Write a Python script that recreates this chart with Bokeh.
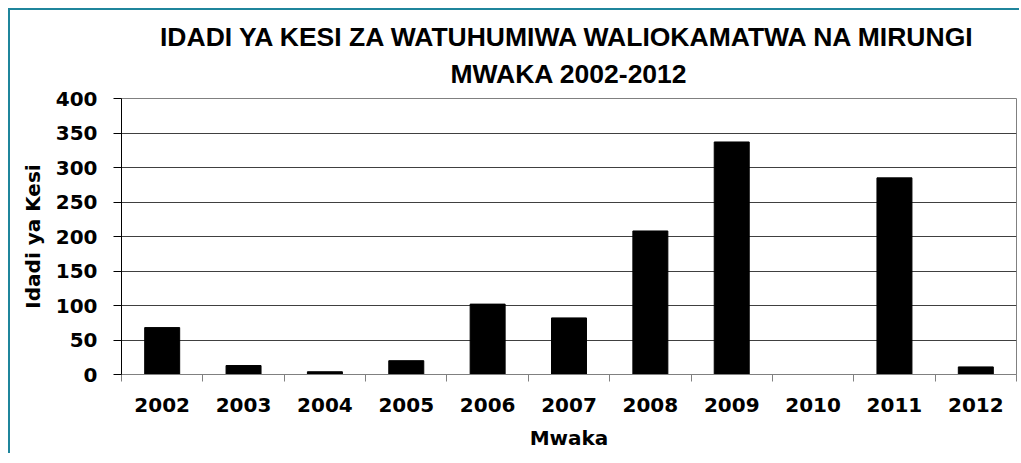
from bokeh.plotting import figure
from bokeh.models import Title, FixedTicker, Range1d
from bokeh.embed import file_html
from bokeh.resources import INLINE
import numpy as np

years = ["2002", "2003", "2004", "2005", "2006", "2007", "2008", "2009", "2010", "2011", "2012"]
cases = [68, 13, 4, 20, 102, 82, 208, 337, 0, 285, 11]
y_ticks = [0, 50, 100, 150, 200, 250, 300, 350, 400]

title_line1 = "IDADI YA KESI ZA WATUHUMIWA WALIOKAMATWA NA MIRUNGI"
title_line2 = "MWAKA 2002-2012"
x_label = "Mwaka"
y_label = "Idadi ya Kesi"

n = len(years)
centers = list(np.arange(n) + 0.5)
bounds = list(range(n + 1))

p = figure(width=1011, height=445, output_backend="svg", toolbar_location=None,
           title=None, x_range=Range1d(0, n), y_range=Range1d(0, 400),
           min_border_left=111, min_border_right=5, min_border_top=88, min_border_bottom=81)
p.styles = {"border-left": "2px solid #1f859c", "border-top": "2px solid #1f859c",
            "margin-left": "8px", "margin-top": "8px"}

t2 = Title(text=title_line2, align="center", text_font="Liberation Sans",
           text_font_size="26.5px", text_font_style="bold", text_color="#000000", standoff=19)
t1 = Title(text=title_line1, align="center", text_font="Liberation Sans",
           text_font_size="26.5px", text_font_style="bold", text_color="#000000", standoff=-8)
p.add_layout(t2, "above")
p.add_layout(t1, "above")

p.vbar(x=centers, top=cases, width=0.43, fill_color="#000000", line_color="#000000")

p.outline_line_color = "#808080"
p.xgrid.visible = False
p.ygrid.ticker = FixedTicker(ticks=y_ticks)
p.ygrid.grid_line_color = "#404040"
p.ygrid.grid_line_width = 1

xa = p.xaxis[0]
xa.ticker = FixedTicker(ticks=centers, minor_ticks=bounds)
xa.major_label_overrides = {c: y for c, y in zip(centers, years)}
xa.major_tick_out = 0
xa.major_tick_in = 0
xa.minor_tick_out = 7
xa.minor_tick_in = 0
xa.minor_tick_line_color = "#808080"
xa.axis_line_color = "#808080"
xa.major_label_standoff = 16
xa.major_label_text_font = "DejaVu Sans"
xa.major_label_text_font_style = "bold"
xa.major_label_text_font_size = "20px"
xa.major_label_text_color = "#000000"
xa.axis_label = x_label
xa.axis_label_text_font = "DejaVu Sans"
xa.axis_label_text_font_style = "bold"
xa.axis_label_text_font_size = "20px"
xa.axis_label_text_color = "#000000"
xa.axis_label_standoff = 11

ya = p.yaxis[0]
ya.ticker = FixedTicker(ticks=y_ticks)
ya.major_tick_out = 8
ya.major_tick_in = 0
ya.minor_tick_line_color = None
ya.axis_line_color = "#000000"
ya.major_tick_line_color = "#000000"
ya.major_label_standoff = 16
ya.major_label_text_font = "DejaVu Sans"
ya.major_label_text_font_style = "bold"
ya.major_label_text_font_size = "20px"
ya.major_label_text_color = "#000000"
ya.axis_label = y_label
ya.axis_label_text_font = "DejaVu Sans"
ya.axis_label_text_font_style = "bold"
ya.axis_label_text_font_size = "20px"
ya.axis_label_text_color = "#000000"
ya.axis_label_standoff = 8

open("out.html", "w").write(file_html(p, INLINE))
